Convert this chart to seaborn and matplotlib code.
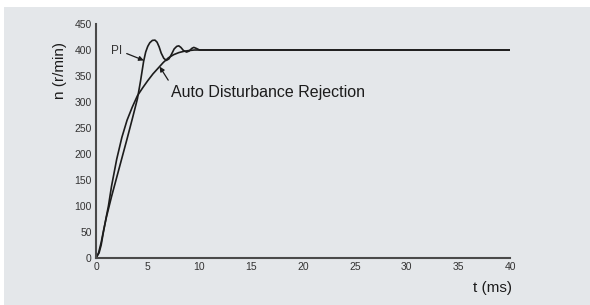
import matplotlib
matplotlib.use("Agg")
import matplotlib.pyplot as plt
import seaborn as sns
from matplotlib.patches import Rectangle

# speed response
t_pi = [0, 0.25, 0.5, 0.75, 1.0, 1.5, 2.0, 2.5, 3.0, 3.5, 4.0, 4.3, 4.6, 4.8,
        5.0, 5.2, 5.45, 5.7, 5.9, 6.1, 6.3, 6.55, 6.8, 7.05, 7.3, 7.55, 7.8,
        8.0, 8.2, 8.45, 8.75, 9.0, 9.25, 9.45, 9.7, 10.0, 10.5, 40]
n_pi = [0, 10, 30, 55, 78, 118, 155, 192, 229, 267, 306, 340, 378, 396,
        407, 414, 418.5, 419, 415, 406, 394, 384, 380, 383, 392, 402, 407,
        408, 405, 399, 396, 398, 403, 405, 403, 400, 400, 400]

t_adrc = [0, 0.3, 0.5, 0.7, 1.0, 1.2, 1.5, 2.0, 2.5, 3.0, 3.5, 4.0, 4.5, 5.0,
          5.5, 6.0, 6.5, 7.0, 7.5, 8.0, 8.5, 9.0, 9.5, 10.0, 40]
n_adrc = [0, 10, 25, 48, 80, 100, 138, 190, 232, 265, 290, 312, 327, 341,
          354, 365, 376, 385, 391, 395, 397.5, 399, 400, 400, 400]

x_ticks = [0, 5, 10, 15, 20, 25, 30, 35, 40]
y_ticks = [0, 50, 100, 150, 200, 250, 300, 350, 400, 450]

sns.set_theme(style="white")
plt.rcParams["font.family"] = ["Liberation Sans", "DejaVu Sans"]

bg = "#e4e7ea"
ink = "#1c1c1c"

fig = plt.figure(figsize=(5.9, 3.05), dpi=100, facecolor="white")
fig.patches.append(Rectangle((4 / 590, 0), 1, 1 - 7 / 305, transform=fig.transFigure,
                             facecolor=bg, edgecolor="none", zorder=-1))
ax = fig.add_axes([96 / 590, 47 / 305, 414 / 590, 234 / 305])
ax.set_facecolor("none")

sns.lineplot(x=t_pi, y=n_pi, ax=ax, color=ink, lw=1.2, sort=False)
sns.lineplot(x=t_adrc, y=n_adrc, ax=ax, color=ink, lw=1.2, sort=False)

ax.set_xlim(0, 40)
ax.set_ylim(0, 450)
ax.set_xticks(x_ticks)
ax.set_yticks(y_ticks)

for side in ["top", "right"]:
    ax.spines[side].set_visible(False)
for side in ["left", "bottom"]:
    ax.spines[side].set_color("#4a4a4a")
    ax.spines[side].set_linewidth(1.5)
ax.tick_params(direction="in", length=4, width=1, color="#4a4a4a",
               labelcolor="#333333", labelsize=7.5, pad=3)

ax.set_ylabel("n (r/min)", fontsize=11, color=ink)
ax.yaxis.set_label_coords(-0.07, 0.8)
ax.set_xlabel("t (ms)", fontsize=11, color=ink, loc="right")
ax.xaxis.set_label_coords(1.005, -0.1)

arrow = dict(arrowstyle="-|>", color=ink, lw=0.9, mutation_scale=7)
ax.annotate("PI", xy=(4.62, 380), xytext=(1.45, 399), ha="left", va="center",
            fontsize=8.5, color="#333333",
            arrowprops=dict(arrow, relpos=(1, 0.4), shrinkA=1, shrinkB=0))
ax.annotate("Auto Disturbance Rejection", xy=(6.15, 368), xytext=(7.25, 319),
            ha="left", va="center", fontsize=11.5, color=ink,
            arrowprops=dict(arrow, relpos=(0, 1), shrinkA=1, shrinkB=0))

fig.savefig("out.png", dpi=100, facecolor="white")
